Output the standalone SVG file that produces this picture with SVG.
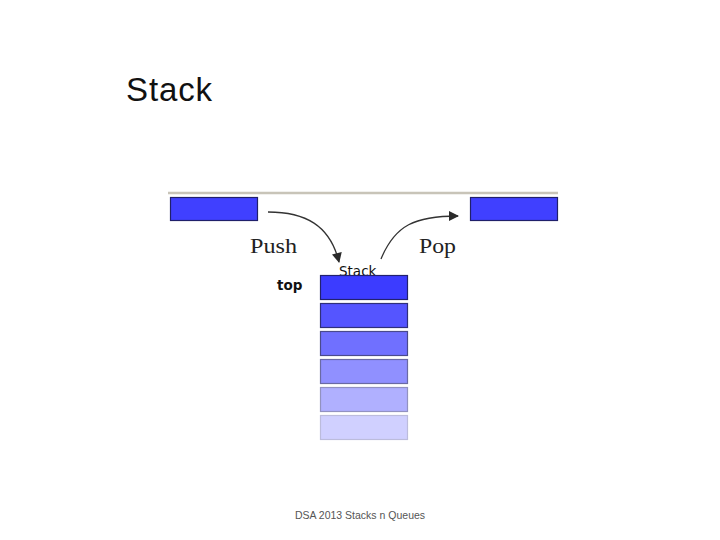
<svg xmlns="http://www.w3.org/2000/svg" width="720" height="540" viewBox="0 0 720 540">
<style>
.box{stroke-width:1.2}
.serif{font-family:"Liberation Serif","DejaVu Serif",serif;font-size:22px;fill:#222}
.sans{font-family:"DejaVu Sans","Liberation Sans",sans-serif}
.conn{fill:none;stroke:#333;stroke-width:1.3}
</style>
<defs>
<marker id="ah2" viewBox="0 0 10 10" refX="9" refY="5" markerWidth="13" markerHeight="10" markerUnits="userSpaceOnUse" orient="auto">
<path d="M0,0 L10,5 L0,10 z" fill="#2a2a2a"/>
</marker>
</defs>
<rect width="720" height="540" fill="#fff"/>
<text x="126" y="101" font-family="Liberation Sans, Arial, sans-serif" font-size="33" fill="#111" textLength="86">Stack</text>
<line x1="168" y1="193" x2="558" y2="193" stroke="#c8c4b8" stroke-width="2.5"/>
<g id="push-src"><rect class="box" x="170.5" y="197.5" width="87" height="23" fill="#4040ff" stroke="#20206a"/></g>
<g id="pop-dst"><rect class="box" x="470.5" y="197.5" width="87" height="23" fill="#4040ff" stroke="#20206a"/></g>
<g id="push-label"><text class="serif" x="250" y="253" textLength="47" lengthAdjust="spacingAndGlyphs">Push</text></g>
<g id="pop-label"><text class="serif" x="419" y="253" textLength="37" lengthAdjust="spacingAndGlyphs">Pop</text></g>
<g id="connectors">
<path class="conn" d="M268,212 C305,212 330,225 339,262" marker-end="url(#ah2)"/>
<path class="conn" d="M381,259 C395,225 415,216 458,216" marker-end="url(#ah2)"/>
</g>
<g id="stack">
<text class="sans" x="339" y="276" font-size="13.5" fill="#111">Stack</text>
<text class="sans" x="277" y="290" font-size="13.5" font-weight="bold" fill="#111">top</text>
<rect class="box" x="320.5" y="275.5" width="87" height="24" fill="#3c3cff" stroke="#22226e"/>
<rect class="box" x="320.5" y="303.5" width="87" height="24" fill="#5555ff" stroke="#30307a"/>
<rect class="box" x="320.5" y="331.5" width="87" height="24" fill="#7070ff" stroke="#4a4a8c"/>
<rect class="box" x="320.5" y="359.5" width="87" height="24" fill="#9090ff" stroke="#6a6aa4"/>
<rect class="box" x="320.5" y="387.5" width="87" height="24" fill="#b0b0ff" stroke="#9292c0"/>
<rect class="box" x="320.5" y="415.5" width="87" height="24" fill="#d0d0ff" stroke="#bcbcdc"/>
</g>
<text x="360" y="519" text-anchor="middle" font-family="Liberation Sans, Arial, sans-serif" font-size="10.5" fill="#555">DSA 2013 Stacks n Queues</text>
</svg>
